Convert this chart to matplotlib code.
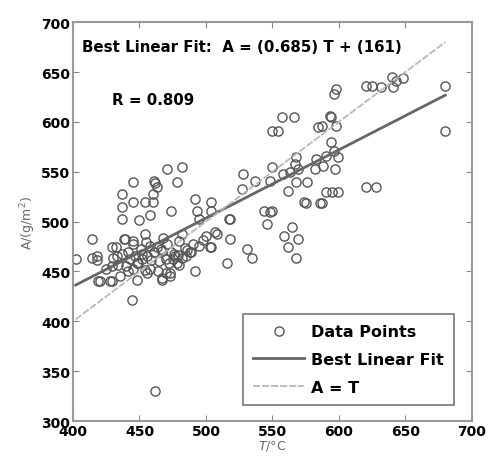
import numpy as np
import matplotlib.pyplot as plt

plt.rcParams['font.family'] = ['DejaVu Sans']

# data points (T in degC, A in g/m2)
T = [402, 414, 414, 418, 418, 419, 429, 429, 437, 437, 437, 445, 445, 454, 460, 460,
     461, 462, 463, 450, 458, 471, 482, 478, 474, 492, 493, 504, 504, 495, 508, 518,
     518, 504, 516, 492, 531, 535, 444, 473, 467, 527, 528, 537, 550, 548, 558, 563,
     568, 567, 569, 576, 574, 562, 568, 544, 548, 550, 546, 559, 565, 569, 562, 568,
     550, 554, 557, 566, 594, 584, 587, 598, 594, 598, 596, 620, 625, 632, 640, 641,
     643, 648, 680, 680, 620, 628, 575, 586, 587, 590, 595, 599, 593, 583, 590, 596,
     599, 588, 597, 582, 454, 438, 445, 439, 432, 441, 445, 433, 434, 429, 447, 449,
     456, 452, 463, 467, 471, 474, 477, 480, 482, 441, 435, 454, 456, 464, 473, 467,
     448, 420, 428, 507, 503, 517, 465, 470, 476, 486, 490, 498, 485, 480, 458, 452,
     440, 425, 462, 470, 478, 488, 495, 500, 445, 458,
     443, 451, 459, 466, 472, 479, 484, 437, 448, 455, 461, 468, 475, 482, 489, 430]
A = [462, 483, 463, 466, 461, 440, 440, 475, 528, 515, 503, 540, 520, 520, 528, 520,
     541, 539, 535, 502, 507, 553, 555, 540, 511, 523, 511, 520, 511, 503, 488, 503,
     483, 475, 458, 450, 473, 463, 421, 445, 443, 533, 548, 541, 555, 541, 548, 550,
     565, 558, 553, 540, 520, 531, 540, 511, 510, 511, 498, 486, 495, 483, 475, 463,
     591, 591, 605, 605, 605, 595, 596, 596, 580, 633, 628, 636, 636, 635, 645, 635,
     641, 644, 636, 591, 535, 535, 519, 519, 519, 530, 530, 530, 606, 563, 566, 571,
     565, 556, 553, 553, 488, 483, 481, 483, 475, 470, 478, 465, 456, 455, 465, 458,
     465, 468, 475, 471, 478, 470, 465, 481, 463, 450, 445, 451, 448, 450, 448, 441,
     441, 440, 440, 490, 475, 503, 460, 462, 468, 472, 478, 482, 466, 456, 452, 462,
     455, 452, 330, 448, 458, 470, 476, 486, 452, 476,
     462, 473, 461, 473, 458, 467, 474, 468, 458, 480, 470, 484, 462, 488, 470, 463]

slope, intercept = 0.685, 161
fit_T = np.array([min(T), max(T)])

fig = plt.figure(figsize=(4.9, 4.64), dpi=100)
ax = fig.add_axes([0.149, 0.0905, 0.814, 0.8595])

ax.plot(T, A, 'o', mfc='none', mec='#555555', ms=6.6, mew=1.0, label='Data Points')
ax.plot(fit_T, slope * fit_T + intercept, '-', color='#666666', lw=2, label='Best Linear Fit')
ax.plot(fit_T, fit_T, '--', color='#b8b8b8', lw=1.3, dashes=(4, 1), label='A = T')

ax.set_xlim(400, 700)
ax.set_ylim(300, 700)
ax.set_xticks(np.arange(400, 701, 50))
ax.set_yticks(np.arange(300, 701, 50))
ax.tick_params(direction='in', top=True, right=True, length=4, color='#888888',
               labelsize=10, pad=2)
for lab in ax.get_xticklabels() + ax.get_yticklabels():
    lab.set_fontweight('bold')
for s in ax.spines.values():
    s.set_color('#999999')
    s.set_linewidth(1.5)

ax.set_xlabel('$T$/°C', fontsize=9, color='#666666', labelpad=0)
ax.set_ylabel('A/(g/m$^2$)', fontsize=9, color='#666666', labelpad=2)

ax.text(407, 676, 'Best Linear Fit:  A = (0.685) T + (161)', fontsize=10.8,
        fontweight='bold', va='center')
ax.text(429, 622, 'R = 0.809', fontsize=10.8, fontweight='bold', va='center')

leg = ax.legend(loc='lower right', bbox_to_anchor=(0.955, 0.04), borderaxespad=0,
                fancybox=False, prop={'weight': 'bold', 'size': 11.5}, borderpad=0.65,
                labelspacing=0.8, handlelength=3.2, handletextpad=0.4)
leg.get_frame().set_edgecolor('#555555')
leg.get_frame().set_linewidth(1.2)

fig.savefig('out.png', dpi=100)
